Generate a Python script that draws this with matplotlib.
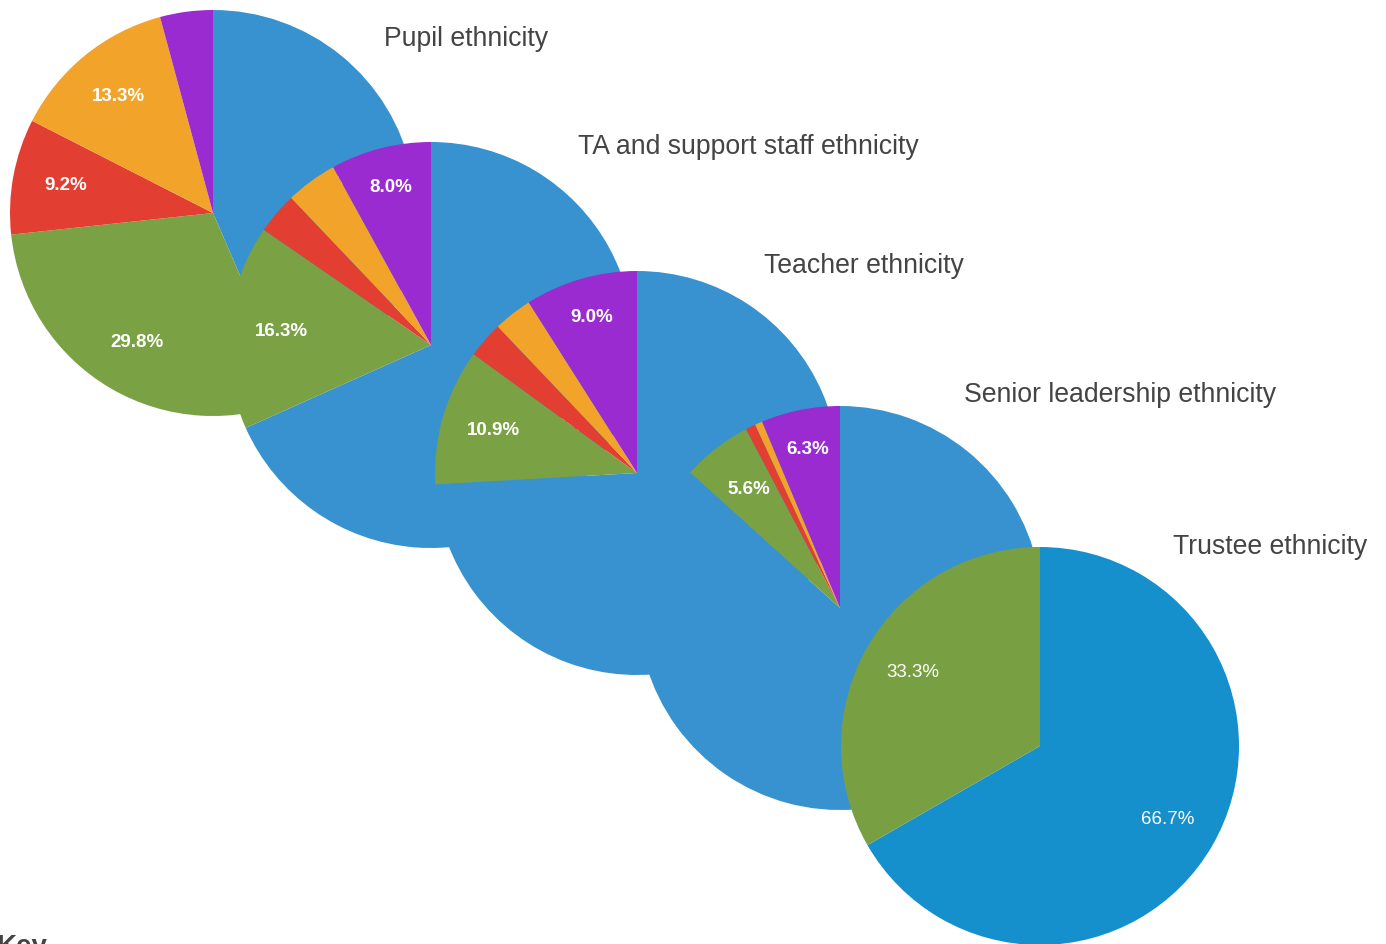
import numpy as np
import matplotlib.pyplot as plt

# Share of each ethnic group (%), slices go clockwise from 12 o'clock:
# White British, Other White, Mixed, Asian, Black/Other
pupil = [43.5, 29.8, 9.2, 13.3, 4.2]
ta_staff = [68.3, 16.3, 3.3, 4.1, 8.0]
teacher = [74.1, 10.9, 2.9, 3.1, 9.0]
senior = [86.7, 5.6, 0.8, 0.6, 6.3]
trustee = [66.7, 33.3]

titles = ["Pupil ethnicity", "TA and support staff ethnicity", "Teacher ethnicity",
          "Senior leadership ethnicity", "Trustee ethnicity"]

colors = ["#3792cf", "#7ba145", "#e23e32", "#f2a42a", "#9a2bd0"]
trustee_colors = ["#1590cc", "#78a042"]

W, H = 1386, 944
fig = plt.figure(figsize=(W / 100, H / 100), dpi=100)
ax = fig.add_axes([0, 0, 1, 1])

# pie centres / radii and title anchors in pixel space (y measured from the top)
centres = [(213, 213), (431, 345), (637, 473), (840, 608), (1040, 746)]
radii = [203, 203, 202, 202, 199]
title_pos = [(384, 36), (578, 144), (764, 263), (964, 392), (1173, 544)]

datasets = [pupil, ta_staff, teacher, senior, trustee]


def fmt(pct):
    return f"{pct:.1f}%" if pct >= 5 else ""


for i, data in enumerate(datasets):
    cx, cy = centres[i]
    last = i == len(datasets) - 1
    wedges, _, autotexts = ax.pie(
        data, colors=trustee_colors if last else colors,
        startangle=90, counterclock=False,
        center=(cx, H - cy), radius=radii[i],
        autopct=fmt, pctdistance=0.74,
        wedgeprops=dict(linewidth=0),
        textprops=dict(color="white", fontsize=13.5,
                       fontweight="normal" if last else "bold",
                       family="Liberation Sans"))
    for w, t in zip(wedges, autotexts):
        w.set_zorder(2 * i + 2)
        t.set_zorder(2 * i + 3)
        # labels of slices near 12 o'clock sit further out so they fit the wedge
        mid = np.deg2rad((w.theta1 + w.theta2) / 2)
        if abs(np.sin(mid - np.pi / 2)) < 0.6 and np.sin(mid) > 0 and not last:
            r = 0.80 * radii[i]
            t.set_position((cx + r * np.cos(mid), H - cy + r * np.sin(mid)))
    tx, ty = title_pos[i]
    ax.text(tx, H - ty - 3, titles[i], fontsize=19.2, color="#444444",
            family="Liberation Sans", ha="left", va="center", zorder=20)

ax.text(-4, H - 934, "Key", fontsize=20, fontweight="bold", color="#444444",
        family="Liberation Sans", ha="left", va="top", zorder=20)

ax.set_xlim(0, W)
ax.set_ylim(0, H)
ax.set_aspect("equal")
ax.axis("off")

fig.savefig("out.png", dpi=100)
